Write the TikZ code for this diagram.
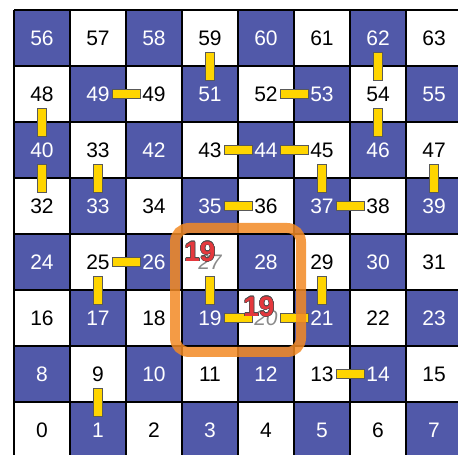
\documentclass[tikz,border=0pt]{standalone}
\usepackage{fontspec}
\setmainfont{Liberation Sans}
\usepackage{contour}
\contourlength{0.5pt}
\definecolor{cellblue}{HTML}{5159A9}
\definecolor{baryellow}{HTML}{FFD500}
\definecolor{boxorange}{HTML}{F28A25}
\definecolor{redlbl}{HTML}{E5383D}
\definecolor{graytxt}{HTML}{8A8A8A}
\tikzset{
  cellnode/.style={minimum width=56pt,minimum height=56pt,inner sep=0pt,font=\fontsize{21}{21}\selectfont},
  hbar/.style={draw=black!65,line width=0.8pt,fill=baryellow,minimum width=28pt,minimum height=9pt,inner sep=0pt},
  vbar/.style={draw=black!65,line width=0.8pt,fill=baryellow,minimum width=9pt,minimum height=28pt,inner sep=0pt},
  redlabel/.style={text=redlbl,font=\fontsize{28}{28}\selectfont\bfseries,inner sep=0pt},
  graylabel/.style={text=graytxt,font=\fontsize{21}{21}\selectfont\itshape}
}
\begin{document}
\begin{tikzpicture}[x=1pt,y=1pt]
\clip (0,0) rectangle (458,455);
\useasboundingbox (0,0) rectangle (458,455);
% cells
\foreach \r in {0,...,7}{
  \foreach \c in {0,...,7}{
    \pgfmathtruncatemacro{\n}{8*\r+\c}
    \pgfmathtruncatemacro{\odd}{mod(\r+\c,2)}
    \pgfmathtruncatemacro{\lab}{\n==41 ? 33 : (\n==50 ? 49 : \n)}
    \ifnum\odd=1
      \node[cellnode,fill=cellblue,text=white] (c\n) at ({42+56*\c},{25+56*\r}) {\lab};
    \else
      \ifnum\n=27
        \node[cellnode] (c\n) at ({42+56*\c},{25+56*\r}) {};
      \else\ifnum\n=20
        \node[cellnode] (c\n) at ({42+56*\c},{25+56*\r}) {};
      \else
        \node[cellnode,text=black] (c\n) at ({42+56*\c},{25+56*\r}) {\lab};
      \fi\fi
    \fi
  }
}
% grid
\begin{scope}[shift={(14,-3)}]
\draw[line width=2.2pt,black] (0,0) grid[step=56pt] (448,448);
\end{scope}
% gray labels
\node[graylabel] (g27) at (c27) {27};
\node[graylabel] (g20) at (c20) {20};
% vertical bars
\foreach \a/\b in {59/51,62/54,48/40,54/46,40/32,41/33,45/37,47/39,25/17,27/19,29/21,9/1}{
  \path (c\a) -- (c\b) node[midway,vbar] {};
}
% horizontal bars
\foreach \a/\b in {49/50,52/53,43/44,44/45,35/36,37/38,25/26,19/20,20/21,13/14}{
  \path (c\a) -- (c\b) node[midway,hbar] {};
}
% orange box
\draw[boxorange,opacity=0.85,line width=10pt,rounded corners=14pt] (175,103) rectangle (301,227);
% red labels
\node[redlabel] (r1) at (200,203) {\contour{black!70}{19}};
\node[redlabel] (r2) at (259,148) {\contour{black!70}{19}};
\end{tikzpicture}
\end{document}
